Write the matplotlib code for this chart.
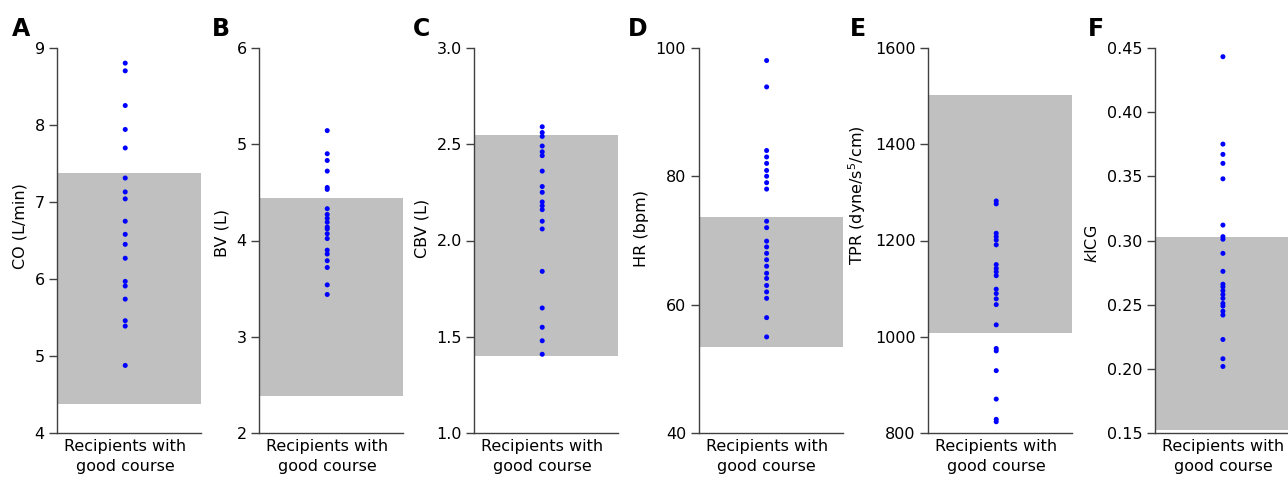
import matplotlib
matplotlib.use("Agg")
import matplotlib.pyplot as plt

# Werte
co = [8.80, 8.70, 8.25, 7.94, 7.70, 7.31, 7.13, 7.04, 6.75, 6.58, 6.45,
      6.27, 5.97, 5.91, 5.74, 5.46, 5.39, 4.88]
bv = [5.14, 4.90, 4.83, 4.72, 4.55, 4.53, 4.33, 4.27, 4.23, 4.19, 4.14,
      4.12, 4.07, 4.02, 3.90, 3.86, 3.79, 3.72, 3.54, 3.44]
cbv = [2.59, 2.56, 2.54, 2.49, 2.46, 2.44, 2.36, 2.28, 2.25, 2.20, 2.18,
       2.16, 2.10, 2.06, 1.84, 1.65, 1.55, 1.48, 1.41]
hr = [98.0, 93.9, 84.0, 83.0, 82.0, 80.9, 80.0, 79.0, 78.0, 73.0, 72.0,
      69.9, 69.0, 68.0, 67.0, 66.0, 64.9, 64.1, 63.0, 62.0, 61.0, 58.0, 55.0]
tpr = [1282, 1276, 1215, 1208, 1201, 1191, 1150, 1142, 1135, 1127, 1099,
       1090, 1079, 1067, 1025, 976, 971, 930, 871, 829, 824]
kicg = [0.443, 0.375, 0.367, 0.360, 0.348, 0.312, 0.303, 0.301, 0.290,
        0.276, 0.266, 0.264, 0.261, 0.258, 0.255, 0.251, 0.249, 0.245,
        0.242, 0.223, 0.208, 0.202]

# Normalbereiche (graue Flaechen)
normal_lo = [4.38, 2.39, 1.403, 53.5, 1009, 0.1526]
normal_hi = [7.37, 4.44, 2.547, 73.65, 1502, 0.3027]

panel_data = [co, bv, cbv, hr, tpr, kicg]
letters = ["A", "B", "C", "D", "E", "F"]
ylabels = ["CO (L/min)", "BV (L)", "CBV (L)", "HR (bpm)",
           "TPR (dyne/s$^5$/cm)", r"$\mathit{k}$ICG"]
ylims = [(4, 9), (2, 6), (1.0, 3.0), (40, 100), (800, 1600), (0.15, 0.45)]
yticks = [[4, 5, 6, 7, 8, 9], [2, 3, 4, 5, 6], [1.0, 1.5, 2.0, 2.5, 3.0],
          [40, 60, 80, 100], [800, 1000, 1200, 1400, 1600],
          [0.15, 0.20, 0.25, 0.30, 0.35, 0.40, 0.45]]
ytick_fmt = ["{:.0f}", "{:.0f}", "{:.1f}", "{:.0f}", "{:.0f}", "{:.2f}"]
xlabel = "Recipients with\ngood course"

W, H = 1288, 484
fig = plt.figure(figsize=(W / 100, H / 100), dpi=100)
plt.rcParams['font.family'] = ['DejaVu Sans']

lefts = [57.3, 259.3, 474.3, 698.7, 928.3, 1155]
letter_x = [12, 212, 413, 628, 850, 1088]
label_y = [0.538, 0.519, 0.532, 0.531, 0.618, 0.491]
ax_w = 144
ax_bottom = 484 - 433.3
ax_h = 385.6

for i in range(6):
    ax = fig.add_axes([lefts[i] / W, ax_bottom / H, ax_w / W, ax_h / H])
    ax.axhspan(normal_lo[i], normal_hi[i], color="#bfc0bf", lw=0, zorder=1)
    ax.scatter([0] * len(panel_data[i]), panel_data[i], s=13, color="#0000ff",
               edgecolors="none", zorder=3, clip_on=False)
    ax.set_xlim(-1, 1.12)
    ax.set_ylim(*ylims[i])
    ax.set_yticks(yticks[i])
    ax.set_yticklabels([ytick_fmt[i].format(v) for v in yticks[i]])
    ax.set_xticks([0])
    ax.set_xticklabels([xlabel])
    for t in ax.get_xticklabels():
        t.set_linespacing(1.4)
    ax.tick_params(axis="x", length=0, pad=4, labelsize=11.5, colors="black")
    ax.tick_params(axis="y", length=6, width=1, direction="out",
                   labelsize=11.5, color="#404040", pad=3)
    ax.set_ylabel(ylabels[i], fontsize=11.5, labelpad=5)
    ax.yaxis.label.set_y(label_y[i])
    for side in ["top", "right"]:
        ax.spines[side].set_visible(False)
    for side in ["left", "bottom"]:
        ax.spines[side].set_color("#404040")
        ax.spines[side].set_linewidth(1)
    fig.text(letter_x[i] / W, 1 - 36 / H, letters[i], fontsize=17,
             fontweight="bold", ha="left", va="baseline")

fig.savefig("out.png", dpi=100)
